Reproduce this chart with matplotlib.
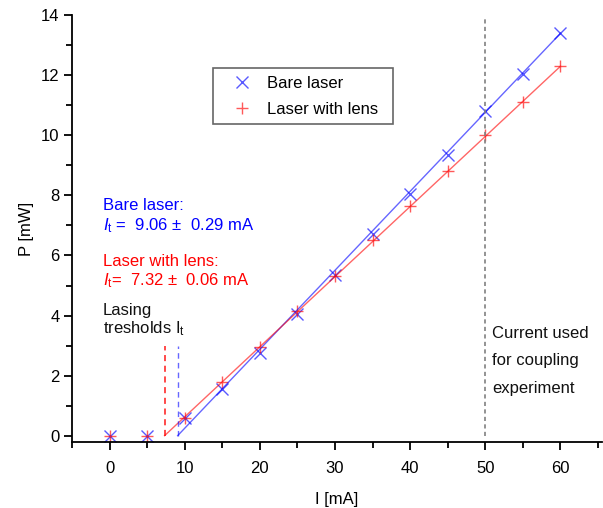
import matplotlib
matplotlib.use("Agg")
import matplotlib.pyplot as plt
import numpy as np
from matplotlib.ticker import MultipleLocator

plt.rcParams['font.family'] = ['Liberation Sans', 'DejaVu Sans']
plt.rcParams['mathtext.fontset'] = 'custom'
plt.rcParams['mathtext.rm'] = 'Liberation Sans'
plt.rcParams['mathtext.it'] = 'Liberation Sans:italic'

current = [0, 5, 10, 15, 20, 25, 30, 35, 40, 45, 50, 55, 60]
p_bare = [0, 0, 0.6, 1.55, 2.75, 4.05, 5.35, 6.7, 8.05, 9.35, 10.8, 12.05, 13.4]
p_lens = [0, 0, 0.6, 1.8, 2.95, 4.15, 5.3, 6.5, 7.65, 8.8, 10.0, 11.1, 12.3]

# linear fits above threshold: P = slope * (I - I_t)
thr_bare, thr_bare_err, slope_bare = 9.06, 0.29, 0.263
thr_lens, thr_lens_err, slope_lens = 7.32, 0.06, 0.2335
fit_end = 60
coupling_current = 50

fig = plt.figure(figsize=(6.03, 5.08), dpi=100)
ax = fig.add_axes([0.1194, 0.130, 0.8786, 0.840])

blue = '#0000ff'
red = '#ff0000'
fs = 12

ax.plot(current, p_bare, 'x', color=blue, ms=9, mew=1.0, alpha=0.65, label='Bare laser')
ax.plot(current, p_lens, '+', color=red, ms=9, mew=1.0, alpha=0.65, label='Laser with lens')

xb = np.array([thr_bare, fit_end])
xl = np.array([thr_lens, fit_end])
ax.plot(xb, slope_bare * (xb - thr_bare), color=blue, lw=1.0, alpha=0.6)
ax.plot(xl, slope_lens * (xl - thr_lens), color=red, lw=1.0, alpha=0.6)

ax.plot([thr_lens, thr_lens], [0, 3.0], color=red, lw=1.1, ls=(0, (4, 3)), alpha=0.9)
ax.plot([thr_bare, thr_bare], [0, 3.0], color=blue, lw=1.0, ls=(0, (4, 3)), alpha=0.6)
ax.plot([coupling_current, coupling_current], [0, 13.9], color='#808080', lw=1.2, ls=(0, (2.5, 2)))

ax.set_xlim(-5, 65.5)
ax.set_ylim(-0.21, 14.0)
ax.spines['top'].set_visible(False)
ax.spines['right'].set_visible(False)
for s in ('left', 'bottom'):
    ax.spines[s].set_linewidth(1.3)

ax.xaxis.set_major_locator(MultipleLocator(10))
ax.xaxis.set_minor_locator(MultipleLocator(5))
ax.yaxis.set_major_locator(MultipleLocator(2))
ax.yaxis.set_minor_locator(MultipleLocator(1))
ax.tick_params(which='major', length=6, width=1.3, labelsize=fs, direction='out')
ax.tick_params(which='minor', length=4, width=1.3, direction='out')
ax.tick_params(axis='x', pad=8)
ax.tick_params(axis='y', pad=3)

ax.set_xlabel('I [mA]', fontsize=fs, labelpad=11)
ax.set_ylabel('P [mW]', fontsize=fs, labelpad=5)

tx = -0.9
ax.text(tx, 7.5, 'Bare laser:', color=blue, fontsize=fs)
ax.text(tx, 6.84, r'$\mathit{I}_{\mathrm{t}}$' + f' =  {thr_bare:.2f} \u00b1  {thr_bare_err:.2f} mA',
        color=blue, fontsize=fs)
ax.text(tx, 5.65, 'Laser with lens:', color=red, fontsize=fs)
ax.text(tx, 5.02, r'$\mathit{I}_{\mathrm{t}}$' + f'=  {thr_lens:.2f} \u00b1  {thr_lens_err:.2f} mA',
        color=red, fontsize=fs)
ax.text(tx, 4.02, 'Lasing', color='#111111', fontsize=fs)
ax.text(tx, 3.42, r'tresholds I$_{\mathrm{t}}$', color='#111111', fontsize=fs)

ax.text(50.9, 3.26, 'Current used', color='#111111', fontsize=fs)
ax.text(50.9, 2.35, 'for coupling', color='#111111', fontsize=fs)
ax.text(50.9, 1.42, 'experiment', color='#111111', fontsize=fs)

leg = ax.legend(loc='upper left', bbox_to_anchor=(0.266, 0.7757, 0.340, 0.1), mode='expand',
                fontsize=fs, frameon=True, fancybox=False, edgecolor='#666666', framealpha=1,
                handlelength=2.55, handletextpad=0.22, borderpad=0.45, labelspacing=0.65,
                borderaxespad=0)
leg.get_frame().set_linewidth(1.2)

fig.savefig('out.png', dpi=100)
